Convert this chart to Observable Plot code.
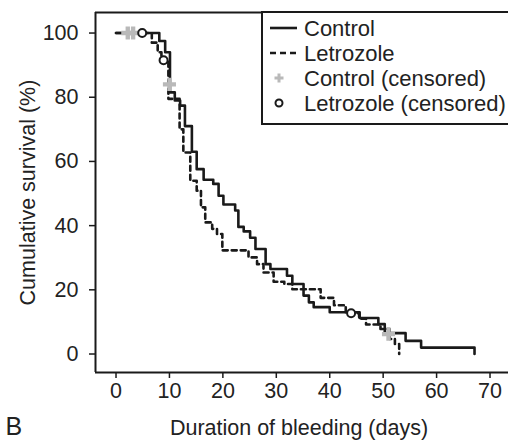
<!DOCTYPE html>
<html><head><meta charset="utf-8">
<script src="https://cdn.jsdelivr.net/npm/d3@7"></script>
<script src="https://cdn.jsdelivr.net/npm/@observablehq/plot@0.6"></script>
<style>
body{margin:0;background:#fff;}
#wrap{position:relative;width:508px;height:440px;font-family:"Liberation Sans",Arial,sans-serif;}
#legend{position:absolute;left:0;top:0;}
</style>
</head><body>
<div id="wrap"></div>
<script>
// Kaplan–Meier step data
const controlDays = [0, 8.1, 9.2, 10.1, 11.0, 12.0, 12.9, 14.2, 15.1, 16.4, 18.2, 19.2, 20.1, 22.3, 22.9, 23.9, 25.1, 26.1, 28.0, 28.9, 32.0, 33.0, 35.1, 36.1, 37.0, 40.0, 45.6, 49.1, 50.3, 54.2, 57.1, 67.1];
const controlSurv = [100, 97.5, 94, 81.5, 79, 77.4, 71, 63, 57.6, 54.3, 53, 49.3, 46.6, 44.7, 39.6, 38.2, 36.2, 32.7, 28, 26.5, 24.4, 21.8, 18.2, 16.1, 14.6, 13, 11.2, 9.3, 6.5, 4.1, 2, 0];
const letrozoleDays = [0, 6.7, 7.8, 8.5, 9.8, 11.9, 12.6, 13.9, 15.1, 15.9, 16.7, 18.0, 18.9, 19.9, 24.8, 26.4, 27.6, 29.5, 31.5, 33.0, 38.3, 40.8, 43.0, 45.5, 46.8, 49.5, 51.2, 52.2, 53.0];
const letrozoleSurv = [100, 97, 94, 91.5, 79.5, 70, 62.8, 54, 50.9, 45.7, 41, 39, 37.4, 32.3, 30.1, 28, 25.4, 22.5, 21.8, 20.2, 17.5, 15.2, 12.7, 11, 9.2, 7.8, 4.7, 3.1, 0];
const controlCensDays = [2.2, 3.2, 10.0, 51.0];
const controlCensSurv = [100, 100, 84, 6.2];
const letrozoleCensDays = [4.9, 8.9, 44.0];
const letrozoleCensSurv = [100, 91.5, 12.7];
const xTicks = [0, 10, 20, 30, 40, 50, 60, 70];
const yTicks = [0, 20, 40, 60, 80, 100];
const legendLabels = ["Control", "Letrozole", "Control (censored)", "Letrozole (censored)"];

const zip = (xs, ys) => xs.map((x, i) => ({x, y: ys[i]}));
const control = zip(controlDays, controlSurv);
const letrozole = zip(letrozoleDays, letrozoleSurv);
const controlCens = zip(controlCensDays, controlCensSurv);
const letrozoleCens = zip(letrozoleCensDays, letrozoleCensSurv);

const xDom = [-3.84, 73.46], yDom = [-5.76, 106.4];
const ink = "#1a1a1a";
const font = "'Liberation Sans', Arial, sans-serif";
const fs = 21.5;

const chart = Plot.plot({
  width: 508, height: 440,
  marginLeft: 95, marginRight: 0, marginTop: 12, marginBottom: 68,
  style: {fontFamily: font, fontSize: fs + "px", color: "#222", background: "#fff"},
  x: {domain: xDom},
  y: {domain: yDom},
  marks: [
    Plot.axisX({ticks: xTicks, tickSize: 6, tickPadding: 4, label: null, fontSize: fs, stroke: ink, strokeWidth: 1.5}),
    Plot.axisY({ticks: yTicks, tickSize: 6, tickPadding: 11, label: null, fontSize: fs, stroke: ink, strokeWidth: 1.5}),
    Plot.ruleX([xDom[0]], {stroke: ink, strokeWidth: 2}),
    Plot.ruleY([yDom[0]], {stroke: ink, strokeWidth: 2}),
    Plot.ruleY([yDom[1]], {stroke: ink, strokeWidth: 2}),
    Plot.line(control, {x: "x", y: "y", curve: "step-after", stroke: ink, strokeWidth: 2.6}),
    Plot.line(letrozole, {x: "x", y: "y", curve: "step-after", stroke: ink, strokeWidth: 2.6, strokeDasharray: "5,4"}),
    Plot.dot(controlCens, {x: "x", y: "y", symbol: "cross", fill: "#b9b9b9", r: 5.5}),
    Plot.dot(letrozoleCens, {x: "x", y: "y", symbol: "circle", fill: "#fff", stroke: ink, strokeWidth: 2, r: 4}),
    Plot.text(["Duration of bleeding (days)"], {frameAnchor: "bottom", dx: -3, dy: 62, fontSize: fs, fill: "#222"}),
    Plot.text(["Cumulative survival (%)"], {frameAnchor: "left", textAnchor: "middle", rotate: -90, dx: -67, fontSize: fs, fill: "#222"}),
    Plot.text(["B"], {frameAnchor: "bottom-left", textAnchor: "start", dx: -90, dy: 62, fontSize: 25, fill: "#222"})
  ]
});
document.getElementById("wrap").appendChild(chart);

// Legend box overlay
const lg = d3.select("#wrap").append("svg").attr("id", "legend")
  .attr("width", 508).attr("height", 440)
  .style("font-family", font).style("font-size", "22px");
lg.append("rect").attr("x", 262).attr("y", 12).attr("width", 260).attr("height", 112)
  .attr("fill", "#fff").attr("stroke", ink).attr("stroke-width", 2);
const rowY = [28, 53, 78, 103];
lg.append("line").attr("x1", 270).attr("x2", 297).attr("y1", rowY[0]).attr("y2", rowY[0]).attr("stroke", ink).attr("stroke-width", 2.6);
lg.append("line").attr("x1", 270).attr("x2", 300).attr("y1", rowY[1]).attr("y2", rowY[1]).attr("stroke", ink).attr("stroke-width", 2.6).attr("stroke-dasharray", "6,4");
lg.append("path").attr("d", d3.symbol(d3.symbolCross, 45)()).attr("transform", `translate(279,${rowY[2]})`).attr("fill", "#b9b9b9");
lg.append("circle").attr("cx", 279).attr("cy", rowY[3]).attr("r", 3.5).attr("fill", "#fff").attr("stroke", ink).attr("stroke-width", 2);
legendLabels.forEach((t, i) => {
  lg.append("text").attr("x", 304).attr("y", rowY[i]).attr("dy", "0.35em").attr("fill", "#222").text(t);
});
</script>
</body></html>
